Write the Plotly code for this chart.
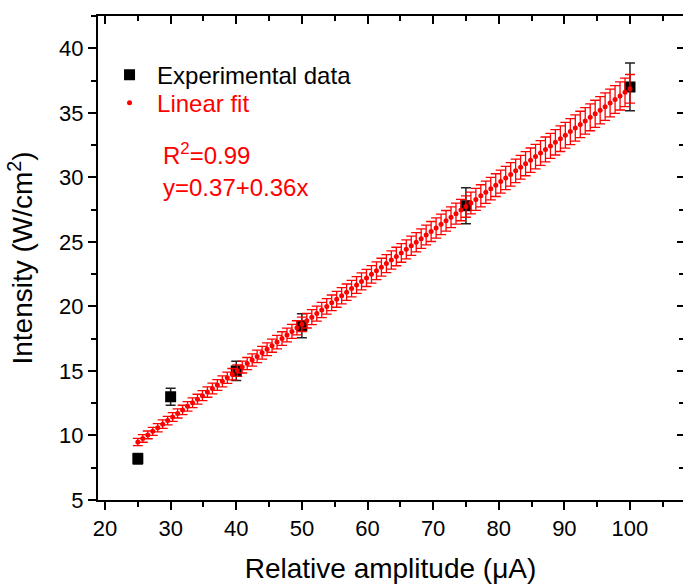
import numpy as np
import plotly.graph_objects as go

# Measured intensity versus drive amplitude
amplitude = [25, 30, 40, 50, 75, 100]
intensity = [8.2, 13.0, 15.0, 18.5, 27.8, 37.0]
intensity_err = [0.41, 0.65, 0.75, 0.93, 1.39, 1.85]

# Linear fit parameters
fit_intercept = 0.37
fit_slope = 0.3649
fit_r2 = 0.99
fit_x_range = [25, 100]
fit_samples = 100
fit_err_pct = 3.0

x_ticks = [20, 30, 40, 50, 60, 70, 80, 90, 100]
y_ticks = [5, 10, 15, 20, 25, 30, 35, 40]
x_range = [18.93, 108.08]
y_range = [5, 42.5]

FONT = "Liberation Sans, Arial, sans-serif"

fit_x = np.linspace(fit_x_range[0], fit_x_range[1], fit_samples)
fit_y = fit_intercept + fit_slope * fit_x
fit_err = fit_y * fit_err_pct / 100.0

fig = go.Figure()

fig.add_trace(go.Scatter(
    x=amplitude, y=intensity, mode="markers", name="Experimental data",
    legend="legend",
    marker=dict(symbol="square", size=11, color="black"),
    error_y=dict(type="data", array=intensity_err, visible=True,
                 color="#222222", thickness=1.5, width=5),
))

fig.add_trace(go.Scatter(
    x=fit_x, y=fit_y, mode="markers",
    name='<span style="color:#ff0000">Linear fit</span>',
    legend="legend2",
    marker=dict(symbol="circle", size=5, color="#ff0000"),
    error_y=dict(type="data", array=fit_err, visible=True,
                 color="#ff0000", thickness=1.3, width=5),
))

# empty trace so the top/right frame axes are always rendered
fig.add_trace(go.Scatter(x=[], y=[], xaxis="x2", yaxis="y2",
                         showlegend=False, hoverinfo="skip"))

axis_common = dict(
    showgrid=False, zeroline=False, showline=True, linecolor="black",
    linewidth=2, tickcolor="black", tickwidth=1.6,
    tickfont=dict(family=FONT, size=22, color="black"),
)

legend_common = dict(
    xanchor="left", yanchor="middle", bgcolor="rgba(0,0,0,0)",
    font=dict(family=FONT, size=24, color="black"),
    itemsizing="trace", itemwidth=45,
)

fig.update_layout(
    width=683, height=586,
    margin=dict(l=98, r=0, t=16, b=86),
    paper_bgcolor="white", plot_bgcolor="white",
    showlegend=True,
    legend=dict(x=0.0069, y=0.878, **legend_common),
    legend2=dict(x=0.0069, y=0.820, **legend_common),
    xaxis=dict(
        range=x_range, tickvals=x_ticks, ticks="outside", ticklen=8,
        minor=dict(dtick=5, ticklen=5, ticks="outside", tickcolor="black", tickwidth=1.6),
        title=dict(text="Relative amplitude (\u03bcA)", standoff=18,
                   font=dict(family=FONT, size=28, color="black")),
        **axis_common,
    ),
    yaxis=dict(
        range=y_range, tickvals=y_ticks, ticks="outside", ticklen=8,
        minor=dict(dtick=2.5, ticklen=5, ticks="outside", tickcolor="black", tickwidth=1.6),
        title=dict(text="Intensity (W/cm<sup>2</sup>)", standoff=18,
                   font=dict(family=FONT, size=28, color="black")),
        **axis_common,
    ),
    xaxis2=dict(
        overlaying="x", side="top", anchor="y2", range=x_range, tickvals=x_ticks,
        ticks="inside", ticklen=8, showticklabels=False,
        minor=dict(dtick=5, ticklen=5, ticks="inside", tickcolor="black", tickwidth=1.6),
        showgrid=False, zeroline=False, showline=True, linecolor="black",
        linewidth=2, tickcolor="black", tickwidth=1.6,
    ),
    yaxis2=dict(
        overlaying="y", side="right", anchor="x2", range=y_range, tickvals=y_ticks,
        ticks="inside", ticklen=6, showticklabels=False,
        minor=dict(dtick=2.5, ticklen=4, ticks="inside", tickcolor="black", tickwidth=1.6),
        showgrid=False, zeroline=False, showline=False,
        tickcolor="black", tickwidth=1.6,
    ),
)

fig.add_annotation(
    xref="paper", yref="paper", x=0.108, y=0.715, xanchor="left", yanchor="middle",
    text=f"R<sup>2</sup>={fit_r2:.2f}", showarrow=False,
    font=dict(family=FONT, size=24, color="#ff0000"),
)
fig.add_annotation(
    xref="paper", yref="paper", x=0.108, y=0.645, xanchor="left", yanchor="middle",
    text=f"y={fit_intercept:.2f}+{fit_slope:.2f}x", showarrow=False,
    font=dict(family=FONT, size=24, color="#ff0000"),
)

fig.write_html("out.html")
